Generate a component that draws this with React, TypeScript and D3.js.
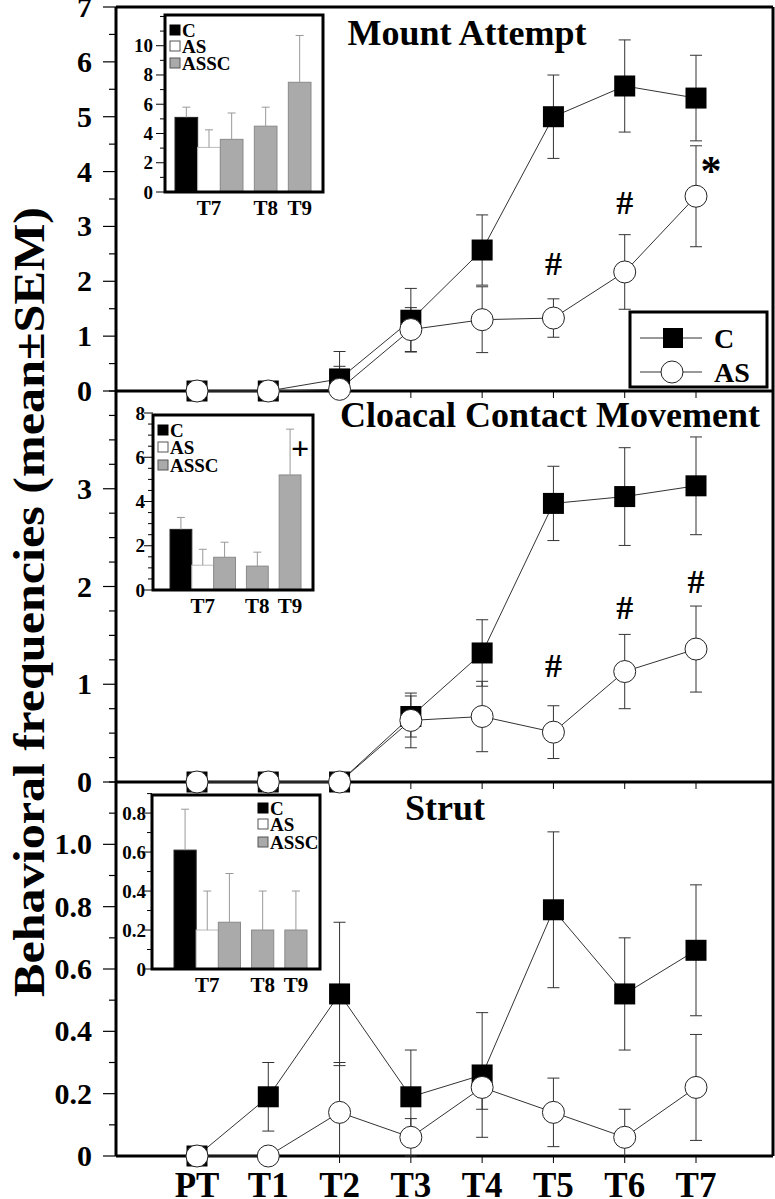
import React from "react";
import * as d3 from "d3";

// ---------- data ----------
const categories = ["PT", "T1", "T2", "T3", "T4", "T5", "T6", "T7"];

const mountC = [0, 0, 0.22, 1.29, 2.57, 5.0, 5.56, 5.34];
const mountCSem = [0, 0, 0.5, 0.58, 0.64, 0.76, 0.84, 0.78];
const mountAS = [0, 0, 0.03, 1.12, 1.3, 1.33, 2.17, 3.55];
const mountASSem = [0, 0, 0.42, 0.4, 0.6, 0.35, 0.68, 0.92];

const cloacalC = [0, 0, 0, 0.67, 1.32, 2.85, 2.92, 3.03];
const cloacalCSem = [0, 0, 0, 0.21, 0.34, 0.38, 0.5, 0.5];
const cloacalAS = [0, 0, 0, 0.63, 0.67, 0.51, 1.13, 1.36];
const cloacalASSem = [0, 0, 0, 0.28, 0.36, 0.27, 0.38, 0.44];

const strutC = [0, 0.19, 0.52, 0.19, 0.26, 0.79, 0.52, 0.66];
const strutCSem = [0, 0.11, 0.23, 0.15, 0.2, 0.25, 0.18, 0.21];
const strutAS = [0, 0, 0.14, 0.06, 0.22, 0.14, 0.06, 0.22];
const strutASSem = [0, 0, 0.16, 0.06, 0.07, 0.11, 0.09, 0.17];

const insetGroups = ["T7", "T8", "T9"];
const insetSeries = ["C", "AS", "ASSC"];
// bars: [group, series]
const insetBarKeys = [
  ["T7", "C"], ["T7", "AS"], ["T7", "ASSC"], ["T8", "ASSC"], ["T9", "ASSC"],
];
const mountInset = [5.1, 3.05, 3.6, 4.5, 7.5];
const mountInsetSem = [0.7, 1.2, 1.8, 1.3, 3.2];
const cloacalInset = [2.74, 1.12, 1.48, 1.08, 5.2];
const cloacalInsetSem = [0.54, 0.72, 0.68, 0.63, 2.07];
const strutInset = [0.61, 0.2, 0.24, 0.2, 0.2];
const strutInsetSem = [0.21, 0.2, 0.25, 0.2, 0.2];

const mountMarks = [
  { cat: "T5", v: 2.33, s: "#" },
  { cat: "T6", v: 3.45, s: "#" },
  { cat: "T7", v: 4.12, s: "*" },
];
const cloacalMarks = [
  { cat: "T5", v: 1.2, s: "#" },
  { cat: "T6", v: 1.79, s: "#" },
  { cat: "T7", v: 2.06, s: "#" },
];
const strutMarks: { cat: string; v: number; s: string }[] = [];
const cloacalInsetMarks = [{ group: "T9", v: 6.43, s: "+" }];

const legendLabels = ["C", "AS"];
const yTitle = "Behavioral frequencies (mean\u00B1SEM)";

// ---------- layout ----------
const W = 775;
const H = 1199;
const LEFT = 116;
const RIGHT = 773;
const FONT = "'Liberation Serif', 'Times New Roman', serif";

const x = d3.scalePoint<string>().domain(categories).range([197, 696]);

type PanelCfg = {
  title: string;
  titleX: number;
  titleY: number;
  c: number[];
  cSem: number[];
  as: number[];
  asSem: number[];
  yTop: number;
  yBottom: number;
  max: number;
  labels: number[];
  minor: number;
  fmt: (v: number) => string;
  marks: { cat: string; v: number; s: string }[];
  inset: InsetCfg;
};

type InsetCfg = {
  left: number;
  right: number;
  top: number;
  bottom: number;
  barLeft: number;
  barRight: number;
  max: number;
  yMaxRange: number;
  labels: number[];
  minor: number;
  fmt: (v: number) => string;
  labelRight: number;
  vals: number[];
  sems: number[];
  legendX: number;
  legendY: number[];
  marks: { group: string; v: number; s: string }[];
};

function Inset({ cfg }: { cfg: InsetCfg }) {
  const y = d3.scaleLinear().domain([0, cfg.max]).range([cfg.bottom, cfg.yMaxRange]);
  const gap = 0.5;
  // cumulative units per group
  const counts = insetGroups.map((g) => insetBarKeys.filter((k) => k[0] === g).length);
  const starts: number[] = [];
  let acc = 0;
  counts.forEach((n, i) => {
    starts.push(acc);
    acc += n + (i < counts.length - 1 ? gap : 0);
  });
  const u = d3.scaleLinear().domain([0, acc]).range([cfg.barLeft, cfg.barRight]);
  const bw = u(1) - u(0);
  const barX = (i: number) => {
    const [g] = insetBarKeys[i];
    const gi = insetGroups.indexOf(g);
    const within = insetBarKeys.slice(0, i).filter((k) => k[0] === g).length;
    return u(starts[gi] + within);
  };
  const groupCenter = (g: string) => {
    const gi = insetGroups.indexOf(g);
    return u(starts[gi] + counts[gi] / 2);
  };
  const fill: Record<string, string> = { C: "#000", AS: "#fff", ASSC: "#aaa" };
  const stroke: Record<string, string> = { C: "#222", AS: "#bbb", ASSC: "#8a8a8a" };
  const minorTicks = d3.range(0, cfg.max + 1e-9, cfg.minor);
  return (
    <g>
      <rect x={cfg.left} y={cfg.top} width={cfg.right - cfg.left} height={cfg.bottom - cfg.top} fill="#fff" />
      {/* bars */}
      {cfg.vals.map((v, i) => {
        const s = insetBarKeys[i][1];
        return (
          <rect key={"b" + i} x={barX(i)} y={y(v)} width={bw} height={y(0) - y(v)}
            fill={fill[s]} stroke={stroke[s]} strokeWidth={1} />
        );
      })}
      {/* error bars */}
      {cfg.vals.map((v, i) => {
        const cx = barX(i) + bw / 2;
        const top = y(v + cfg.sems[i]);
        return (
          <g key={"e" + i} stroke="#999" strokeWidth={1}>
            <line x1={cx} x2={cx} y1={y(v)} y2={top} />
            <line x1={cx - 4} x2={cx + 4} y1={top} y2={top} />
          </g>
        );
      })}
      {/* axis ticks */}
      {minorTicks.map((t, i) => {
        const major = cfg.labels.some((l) => Math.abs(l - t) < 1e-6);
        return (
          <line key={"t" + i} x1={cfg.left - (major ? 9 : 5)} x2={cfg.left} y1={y(t)} y2={y(t)}
            stroke="#000" strokeWidth={1} />
        );
      })}
      {cfg.labels.map((l, i) => (
        <text key={"l" + i} x={cfg.labelRight} y={y(l) + 6.5} textAnchor="end" fontSize={19}
          fontWeight="bold" fontFamily={FONT}>{cfg.fmt(l)}</text>
      ))}
      {/* frame */}
      <rect x={cfg.left} y={cfg.top} width={cfg.right - cfg.left} height={cfg.bottom - cfg.top}
        fill="none" stroke="#000" strokeWidth={3} />
      {/* legend */}
      {insetSeries.map((s, i) => (
        <g key={"lg" + i}>
          <rect x={cfg.legendX} y={cfg.legendY[i] - 5} width={10} height={10} fill={fill[s]}
            stroke={s === "C" ? "#000" : "#555"} strokeWidth={1} />
          <text x={cfg.legendX + 12} y={cfg.legendY[i] + 6.5} fontSize={19} fontWeight="bold"
            fontFamily={FONT}>{s}</text>
        </g>
      ))}
      {/* group labels */}
      {insetGroups.map((g) => (
        <text key={g} x={groupCenter(g)} y={cfg.bottom + 23} textAnchor="middle" fontSize={21}
          fontWeight="bold" fontFamily={FONT}>{g}</text>
      ))}
      {cfg.marks.map((m, i) => (
        <text key={"m" + i} x={groupCenter(m.group) + 10} y={y(m.v) + 11} textAnchor="middle"
          fontSize={32} fontWeight="bold" fontFamily={FONT}>{m.s}</text>
      ))}
    </g>
  );
}

function Panel({ cfg, showBottomLabels }: { cfg: PanelCfg; showBottomLabels: boolean }) {
  const y = d3.scaleLinear().domain([0, cfg.max]).range([cfg.yBottom, cfg.yTop]);
  const line = d3.line<number>().x((_, i) => x(categories[i])!).y((d) => y(d));
  const ticks = d3.range(0, cfg.max + 1e-9, cfg.minor);
  const err = (vals: number[], sems: number[], key: string) =>
    vals.map((v, i) => {
      const s = sems[i];
      if (!s) return null;
      const cx = x(categories[i])!;
      const up = y(v + s);
      const lowV = v - s;
      const lo = y(Math.max(0, lowV));
      return (
        <g key={key + i} stroke="#333" strokeWidth={1}>
          <line x1={cx} x2={cx} y1={lo} y2={up} />
          <line x1={cx - 6} x2={cx + 6} y1={up} y2={up} />
          {lowV >= 0 && <line x1={cx - 6} x2={cx + 6} y1={lo} y2={lo} />}
        </g>
      );
    });
  return (
    <g>
      {/* left ticks */}
      {ticks.map((t, i) => {
        const major = cfg.labels.some((l) => Math.abs(l - t) < 1e-6);
        return (
          <line key={"yt" + i} x1={LEFT - (major ? 13 : 7)} x2={LEFT} y1={y(t)} y2={y(t)}
            stroke="#000" strokeWidth={1.2} />
        );
      })}
      {cfg.labels.map((l, i) => (
        <text key={"yl" + i} x={92} y={y(l) + 10} textAnchor="end" fontSize={30} fontWeight="bold"
          fontFamily={FONT}>{cfg.fmt(l)}</text>
      ))}
      {/* bottom ticks */}
      {categories.map((c) => (
        <line key={"xt" + c} x1={x(c)} x2={x(c)} y1={cfg.yBottom} y2={cfg.yBottom + 7}
          stroke="#000" strokeWidth={1} />
      ))}
      {showBottomLabels &&
        categories.map((c) => (
          <text key={"xl" + c} x={x(c)} y={1197} textAnchor="middle" fontSize={35}
            fontWeight="bold" fontFamily={FONT}>{c}</text>
        ))}
      {/* frame lines */}
      <line x1={LEFT} x2={RIGHT} y1={cfg.yBottom} y2={cfg.yBottom} stroke="#000" strokeWidth={3} />
      <line x1={LEFT} x2={LEFT} y1={cfg.yTop} y2={cfg.yBottom} stroke="#000" strokeWidth={3} />
      <line x1={RIGHT} x2={RIGHT} y1={cfg.yTop} y2={cfg.yBottom} stroke="#000" strokeWidth={3} />
      <text x={cfg.titleX} y={cfg.titleY} textAnchor="middle" fontSize={36} fontWeight="bold"
        fontFamily={FONT}>{cfg.title}</text>
      <Inset cfg={cfg.inset} />
      {err(cfg.c, cfg.cSem, "ec")}
      {err(cfg.as, cfg.asSem, "ea")}
      <path d={line(cfg.c)!} fill="none" stroke="#333" strokeWidth={1} />
      <path d={line(cfg.as)!} fill="none" stroke="#333" strokeWidth={1} />
      {cfg.c.map((v, i) => (
        <rect key={"sq" + i} x={x(categories[i])! - 10.5} y={y(v) - 10.5} width={21} height={21}
          fill="#000" />
      ))}
      {cfg.as.map((v, i) => (
        <circle key={"ci" + i} cx={x(categories[i])} cy={y(v)} r={11} fill="#fff" stroke="#222"
          strokeWidth={1} />
      ))}
      {cfg.marks.map((m, i) =>
        m.s === "*" ? (
          <text key={"mk" + i} x={x(m.cat)! + 15} y={y(m.v) + 20} textAnchor="middle" fontSize={42}
            fontWeight="bold" fontFamily={FONT}>{m.s}</text>
        ) : (
          <text key={"mk" + i} x={x(m.cat)} y={y(m.v) + 12} textAnchor="middle" fontSize={34}
            fontWeight="bold" fontFamily={FONT}>{m.s}</text>
        )
      )}
    </g>
  );
}

const intFmt = (v: number) => String(v);
const decFmt = (v: number) => (v === 0 ? "0" : v.toFixed(1));

const panels: PanelCfg[] = [
  {
    title: "Mount Attempt", titleX: 467, titleY: 45,
    c: mountC, cSem: mountCSem, as: mountAS, asSem: mountASSem,
    yTop: 7, yBottom: 391, max: 7, labels: [0, 1, 2, 3, 4, 5, 6, 7], minor: 0.5, fmt: intFmt,
    marks: mountMarks,
    inset: {
      left: 165, right: 323, top: 15, bottom: 192, barLeft: 175, barRight: 311,
      max: 12.1, yMaxRange: 15, labels: [0, 2, 4, 6, 8, 10], minor: 1, fmt: intFmt, labelRight: 153,
      vals: mountInset, sems: mountInsetSem, legendX: 170, legendY: [30, 46, 63], marks: [],
    },
  },
  {
    title: "Cloacal Contact Movement", titleX: 550, titleY: 427,
    c: cloacalC, cSem: cloacalCSem, as: cloacalAS, asSem: cloacalASSem,
    yTop: 391, yBottom: 782, max: 4, labels: [0, 1, 2, 3], minor: 0.25, fmt: intFmt,
    marks: cloacalMarks,
    inset: {
      left: 153, right: 313, top: 415, bottom: 590, barLeft: 170, barRight: 301,
      max: 8, yMaxRange: 413, labels: [0, 2, 4, 6, 8], minor: 0.5, fmt: intFmt, labelRight: 145,
      vals: cloacalInset, sems: cloacalInsetSem, legendX: 158, legendY: [430, 447, 465],
      marks: cloacalInsetMarks,
    },
  },
  {
    title: "Strut", titleX: 445, titleY: 820,
    c: strutC, cSem: strutCSem, as: strutAS, asSem: strutASSem,
    yTop: 782, yBottom: 1156, max: 1.2, labels: [0, 0.2, 0.4, 0.6, 0.8, 1.0], minor: 0.1, fmt: decFmt,
    marks: strutMarks,
    inset: {
      left: 152, right: 320, top: 795, bottom: 969, barLeft: 174, barRight: 307,
      max: 0.9, yMaxRange: 793.6, labels: [0, 0.2, 0.4, 0.6, 0.8], minor: 0.1, fmt: decFmt,
      labelRight: 146, vals: strutInset, sems: strutInsetSem, legendX: 258, legendY: [808, 824, 842],
      marks: [],
    },
  },
];

export default function App() {
  return (
    <svg width={W} height={H} style={{ position: "absolute", left: 0, top: 0, background: "#fff" }}>
      <rect x={0} y={0} width={W} height={H} fill="#fff" />
      <line x1={LEFT} x2={RIGHT} y1={7} y2={7} stroke="#000" strokeWidth={3} />
      {panels.map((p, i) => (
        <Panel key={p.title} cfg={p} showBottomLabels={i === panels.length - 1} />
      ))}
      {/* legend */}
      <g>
        <rect x={630} y={312} width={137} height={75} fill="#fff" stroke="#000" strokeWidth={3} />
        {legendLabels.map((l, i) => {
          const cy = 338 + i * 34;
          return (
            <g key={l}>
              <line x1={640} x2={702} y1={cy} y2={cy} stroke="#333" strokeWidth={1} />
              {i === 0 ? (
                <rect x={663} y={cy - 10} width={20} height={20} fill="#000" />
              ) : (
                <circle cx={672} cy={cy} r={11} fill="#fff" stroke="#222" strokeWidth={1} />
              )}
              <text x={714} y={cy + 5 + (i === 0 ? 0 : 0) + 5} fontSize={28} fontWeight="bold"
                fontFamily={FONT}>{l}</text>
            </g>
          );
        })}
      </g>
      <text transform="translate(44,602) rotate(-90)" textAnchor="middle" fontSize={44}
        fontWeight="bold" fontFamily={FONT} textLength={790} lengthAdjust="spacingAndGlyphs">{yTitle}</text>
    </svg>
  );
}
